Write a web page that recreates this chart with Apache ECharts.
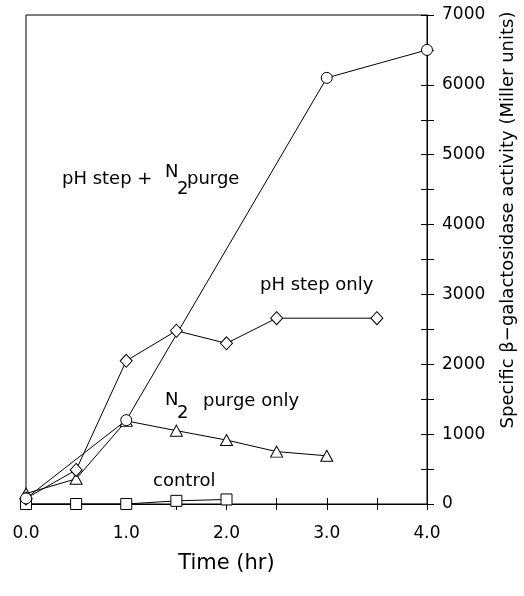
<!DOCTYPE html>
<html>
<head>
<meta charset="utf-8">
<script src="https://cdn.jsdelivr.net/npm/echarts@6/dist/echarts.min.js"></script>
<style>
  html, body { margin: 0; padding: 0; background: #fff; }
  #main { width: 524px; height: 596px; }
</style>
</head>
<body>
<div id="main"></div>
<script>
// time points (hr) and activity (Miller units) per condition
const timeBoth = [0, 1.0, 3.0, 4.0];
const phN2Purge = [80, 1200, 6100, 6500];

const timePh = [0, 0.5, 1.0, 1.5, 2.0, 2.5, 3.5];
const phStepOnly = [80, 487, 2050, 2480, 2300, 2660, 2660];

const timeN2 = [0, 0.5, 1.0, 1.5, 2.0, 2.5, 3.0];
const n2PurgeOnly = [150, 360, 1190, 1050, 915, 750, 690];

const timeCtl = [0, 0.5, 1.0, 1.5, 2.0];
const control = [0, 0, 0, 45, 65];

const FONT = 'DejaVu Sans';
const GRID_W = 401, GRID_H = 489;

function pairs(xs, ys) {
  return xs.map((x, i) => [x, ys[i]]);
}

function mkSeries(name, xs, ys, symbol, size) {
  return {
    name: name,
    type: 'line',
    data: pairs(xs, ys),
    symbol: symbol,
    symbolSize: size,
    showAllSymbol: true,
    lineStyle: { color: '#000', width: 1 },
    itemStyle: { color: '#fff', borderColor: '#000', borderWidth: 1 }
  };
}

// plain text piece, y is the middle of the capitals
function txt(x, y, s, size) {
  return {
    type: 'text', x: x, y: y,
    style: { text: s, fill: '#000', fontSize: size || 18, fontFamily: FONT, verticalAlign: 'middle' }
  };
}

var myChart = echarts.init(document.getElementById('main'));
var option = {
  backgroundColor: '#fff',
  animation: false,
  grid: {
    left: 26, right: 97, top: 15, bottom: 92,
    show: true, borderColor: '#000', borderWidth: 1
  },
  xAxis: [
    {
      type: 'value', min: 0, max: 4, interval: 0.5, position: 'bottom',
      axisLine: { onZero: false, lineStyle: { color: '#000', width: 1 } },
      axisTick: { length: 6, lineStyle: { color: '#000' } },
      axisLabel: {
        formatter: v => (v % 1 === 0 ? v.toFixed(1) : ''),
        margin: 21, fontSize: 17, color: '#000', fontFamily: FONT
      },
      splitLine: { show: false },
      name: 'Time (hr)', nameLocation: 'middle', nameGap: 49,
      nameTextStyle: { fontSize: 21, color: '#000', fontFamily: FONT }
    },
    {
      // upper half of the crossing ticks, moved down onto the bottom edge
      type: 'value', min: 0, max: 4, interval: 0.5, position: 'top', offset: -GRID_H,
      axisLine: { show: false, onZero: false },
      axisTick: { length: 6, lineStyle: { color: '#000' } },
      axisLabel: { show: false },
      splitLine: { show: false }
    }
  ],
  yAxis: [
    {
      type: 'value', min: 0, max: 7000, interval: 500, position: 'right',
      axisLine: { show: true, onZero: false, lineStyle: { color: '#000', width: 1 } },
      axisTick: { length: 7, lineStyle: { color: '#000' } },
      axisLabel: {
        formatter: v => (v % 1000 === 0 ? String(v) : ''),
        margin: 15, fontSize: 17, color: '#000', fontFamily: FONT
      },
      splitLine: { show: false }
    },
    {
      // left half of the crossing ticks, moved over onto the right edge
      type: 'value', min: 0, max: 7000, interval: 500, position: 'left', offset: -GRID_W,
      axisLine: { show: false, onZero: false },
      axisTick: { length: 6, lineStyle: { color: '#000' } },
      axisLabel: { show: false },
      splitLine: { show: false }
    }
  ],
  series: [
    mkSeries('control', timeCtl, control, 'rect', 11),
    mkSeries('N2 purge only', timeN2, n2PurgeOnly, 'triangle', [12, 11]),
    mkSeries('pH step only', timePh, phStepOnly, 'diamond', [12, 13]),
    mkSeries('pH step + N2 purge', timeBoth, phN2Purge, 'circle', 11)
  ],
  graphic: [
    txt(62, 179, 'pH step +'),
    txt(165, 172, 'N'),
    txt(177, 189, '2'),
    txt(187, 179, 'purge'),
    txt(260, 285, 'pH step only'),
    txt(165, 400, 'N'),
    txt(177, 413, '2'),
    txt(203, 401, 'purge only'),
    txt(153, 481, 'control'),
    {
      type: 'text', x: 508, y: 220, rotation: Math.PI / 2,
      style: {
        text: 'Specific \u03b2\u2212galactosidase activity (Miller units)',
        fill: '#000', fontSize: 18, fontFamily: FONT,
        align: 'center', verticalAlign: 'middle'
      }
    }
  ]
};
myChart.setOption(option);
</script>
</body>
</html>
